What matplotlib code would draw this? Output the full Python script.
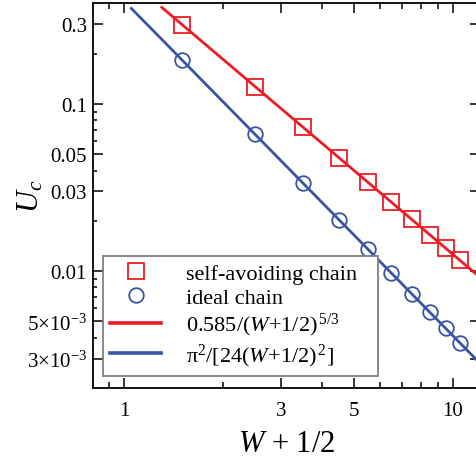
"""Critical adsorption strength U_c versus W + 1/2 (log-log)."""
import matplotlib
matplotlib.use("Agg")
import matplotlib.pyplot as plt
from matplotlib.ticker import FixedLocator, FixedFormatter, NullFormatter

# Data
w_half = [1.5, 2.5, 3.5, 4.5, 5.5, 6.5, 7.5, 8.5, 9.5, 10.5]
uc_self_avoiding = [0.296, 0.127, 0.0725, 0.0477, 0.0341, 0.0258, 0.0204, 0.0165, 0.0137, 0.0116]
uc_ideal = [0.183, 0.0658, 0.0336, 0.0203, 0.0136, 0.00973, 0.00731, 0.00569, 0.00456, 0.00373]

# Fit lines (power laws, straight on log-log axes) given by their end points
fit_sa_x = [1.3, 12.5]
fit_sa_y = [0.378, 0.00869]
fit_ideal_x = [1.05, 12.5]
fit_ideal_y = [0.373, 0.00263]

labels = [
    "self-avoiding chain",
    "ideal chain",
    "0.585/($W$+1/2)$^{\\,5/3}$",
    "\u03c0$^2$/[24($W$+1/2)$^{\\,2}$]",
]

x_major = [1, 3, 5, 10]
x_major_labels = ["1", "3", "5", "10"]
y_major = [0.3, 0.1, 0.05, 0.03, 0.01, 0.005, 0.003]
y_major_labels = ["0.3", "0.1", "0.05", "0.03", "0.01",
                  "5\u00d710$^{-3}$", "3\u00d710$^{-3}$"]

RED = "#ED1C24"
BLUE = "#3A53A4"

plt.rcParams["font.family"] = ["Liberation Serif", "DejaVu Serif"]
plt.rcParams["mathtext.fontset"] = "custom"
plt.rcParams["mathtext.rm"] = "Liberation Serif"
plt.rcParams["mathtext.it"] = "Liberation Serif:italic"

fig = plt.figure(figsize=(4.77, 4.64), dpi=100)
ax = fig.add_axes([0.194, 0.1616, 0.8125, 0.8291])

ax.plot(fit_sa_x, fit_sa_y, color=RED, lw=2.0, zorder=2, label=labels[2])
ax.plot(fit_ideal_x, fit_ideal_y, color=BLUE, lw=2.0, zorder=2, label=labels[3])
ax.plot(w_half, uc_self_avoiding, ls="none", marker="s", ms=11, mfc="none",
        mec=RED, mew=1.3, zorder=3, label=labels[0])
ax.plot(w_half, uc_ideal, ls="none", marker="o", ms=10.5, mfc="none",
        mec=BLUE, mew=1.3, zorder=3, label=labels[1])

ax.set_xscale("log")
ax.set_yscale("log")
ax.set_xlim(0.8, 12.1)
ax.set_ylim(0.002, 0.4)

# Ticks
ax.xaxis.set_major_locator(FixedLocator(x_major))
ax.xaxis.set_major_formatter(FixedFormatter(x_major_labels))
ax.xaxis.set_minor_locator(FixedLocator([0.9, 2, 4, 6, 7, 8, 9]))
ax.xaxis.set_minor_formatter(NullFormatter())
ax.yaxis.set_major_locator(FixedLocator(y_major))
ax.yaxis.set_major_formatter(FixedFormatter(y_major_labels))
ax.yaxis.set_minor_locator(FixedLocator(
    [0.2, 0.09, 0.08, 0.07, 0.06, 0.04, 0.02,
     0.009, 0.008, 0.007, 0.006, 0.004]))
ax.yaxis.set_minor_formatter(NullFormatter())

ax.tick_params(which="both", direction="in", top=True, right=True,
               labelsize=15, width=1.1)
ax.tick_params(which="major", length=7)
ax.xaxis.set_tick_params(which="minor", length=4.2)
ax.yaxis.set_tick_params(which="minor", length=2.8)
ax.xaxis.set_tick_params(which="major", pad=9)
ax.yaxis.set_tick_params(which="major", pad=4)
for sp in ax.spines.values():
    sp.set_linewidth(1.3)

ax.set_xlabel("$W$ + 1/2", fontsize=22, labelpad=7)
ax.set_ylabel("$U_c$", fontsize=22)
ax.yaxis.set_label_coords(-0.122, 0.5)

handles, lbls = ax.get_legend_handles_labels()
order = [2, 3, 0, 1]
leg = ax.legend([handles[i] for i in order], [lbls[i] for i in order],
                loc="lower left", bbox_to_anchor=(0.027, 0.031, 0.709, 0.3),
                mode="expand", borderaxespad=0, fontsize=16, fancybox=False,
                handlelength=2.3, handletextpad=1.1, labelspacing=0.15,
                borderpad=0.32, framealpha=1)
leg.get_frame().set_edgecolor("#808080")
leg.get_frame().set_linewidth(1.3)
for h in leg.legend_handles[2:]:
    h.set_linewidth(2.6)

fig.savefig("out.png", dpi=100)
